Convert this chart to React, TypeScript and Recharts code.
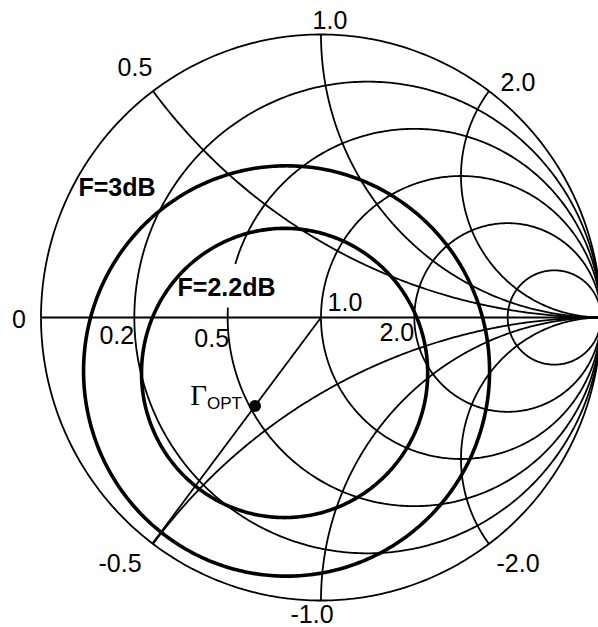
import React from "react";
import { ComposedChart, Line, Scatter, XAxis, YAxis } from "recharts";

// Smith chart grid values
const RESISTANCES = [0, 0.2, 0.5, 1, 2, 5];
const REACTANCES = [0.5, 1, 2, -0.5, -1, -2];

// tick labels
const R_TICKS = [0, 0.2, 0.5, 1, 2];
const R_TICK_LABELS = ["0", "0.2", "0.5", "1.0", "2.0"];
const X_TICKS = [0.5, 1, 2, -0.5, -1, -2];
const X_TICK_LABELS = ["0.5", "1.0", "2.0", "-0.5", "-1.0", "-2.0"];

// noise circles (reflection-coefficient plane)
const NOISE_LABELS = ["F=2.2dB", "F=3dB"];
const NOISE_CENTER_RE = [-0.13, -0.123];
const NOISE_CENTER_IM = [-0.196, -0.189];
const NOISE_RADIUS = [0.511, 0.725];

const GAMMA_OPT_RE = -0.2357;
const GAMMA_OPT_IM = -0.3127;

// where the noise-circle captions sit
const NOISE_LABEL_RE = [-0.3375, -0.7286];
const NOISE_LABEL_IM = [0.1095, 0.4594];

// pixel offsets of tick labels from their grid point
const R_OFFSET: Record<string, [number, number]> = {
  "0": [-22, 1],
  "0.2": [-17.5, 17.5],
  "0.5": [-16, 20.5],
  "1.0": [24, -15.5],
  "2.0": [-17.5, 14.5],
};
const X_OFFSET: Record<string, [number, number]> = {
  "0.5": [-18, -24],
  "1.0": [9, -14.5],
  "2.0": [29, -9],
  "-0.5": [-33, 19],
  "-1.0": [-9, 13],
  "-2.0": [29, 19],
};

const SANS = "Liberation Sans, Arial, sans-serif";
const THIN = 1.8;
const THICK = 3.6;

type Pt = { x: number; y: number | null };

// caption of the 2.2 dB circle has a white box behind it
const MASK = { re: NOISE_LABEL_RE[0], im: NOISE_LABEL_IM[0], hw: 52 / 280, hh: 20.5 / 283 };

function mask(pts: Pt[]): Pt[] {
  return pts.map((p) =>
    Math.abs(p.x - MASK.re) < MASK.hw && p.y !== null && Math.abs(p.y - MASK.im) < MASK.hh
      ? { x: p.x, y: null }
      : p
  );
}

function circle(cx: number, cy: number, rad: number, n = 480): Pt[] {
  const pts: Pt[] = [];
  for (let i = 0; i <= n; i++) {
    const t = (2 * Math.PI * i) / n;
    pts.push({ x: cx + rad * Math.cos(t), y: cy + rad * Math.sin(t) });
  }
  return pts;
}

function resistanceCircle(r: number): Pt[] {
  return circle(r / (1 + r), 0, 1 / (1 + r));
}

function reactanceArc(xv: number, n = 300): Pt[] {
  const pts: Pt[] = [];
  for (let i = 0; i < n; i++) {
    const r = Math.tan(((Math.PI / 2) * i) / n);
    const d = (r + 1) * (r + 1) + xv * xv;
    pts.push({ x: (r * r + xv * xv - 1) / d, y: (2 * xv) / d });
  }
  pts.push({ x: 1, y: 0 });
  return pts;
}

const gammaOptMag = Math.hypot(GAMMA_OPT_RE, GAMMA_OPT_IM);
const radial: Pt[] = [
  { x: 0, y: 0 },
  { x: GAMMA_OPT_RE / gammaOptMag, y: GAMMA_OPT_IM / gammaOptMag },
];

const tickData = [
  ...R_TICKS.map((r, i) => ({ x: (r - 1) / (r + 1), y: 0, text: R_TICK_LABELS[i], off: R_OFFSET[R_TICK_LABELS[i]] })),
  ...X_TICKS.map((xv, i) => ({
    x: (xv * xv - 1) / (1 + xv * xv),
    y: (2 * xv) / (1 + xv * xv),
    text: X_TICK_LABELS[i],
    off: X_OFFSET[X_TICK_LABELS[i]],
  })),
];

const noiseLabelData = NOISE_LABELS.map((t, i) => ({ x: NOISE_LABEL_RE[i], y: NOISE_LABEL_IM[i], text: t }));

const TickText = (p: any) => {
  const [dx, dy] = p.payload.off;
  return (
    <text x={p.cx + dx} y={p.cy + dy + 9} textAnchor="middle" fontFamily={SANS} fontSize={25} fill="#000">
      {p.payload.text}
    </text>
  );
};

const NoiseText = (p: any) => (
  <text x={p.cx} y={p.cy + 9} textAnchor="middle" fontFamily={SANS} fontWeight="bold" fontSize={25} fill="#000">
    {p.payload.text}
  </text>
);

const GammaOpt = (p: any) => (
  <g>
    <circle cx={p.cx} cy={p.cy} r={6} fill="#000" />
    <text x={p.cx - 13} y={p.cy - 1} textAnchor="end" fill="#000">
      <tspan fontFamily="Liberation Serif, Times New Roman, serif" fontSize={29}>
        Γ
      </tspan>
      <tspan fontFamily={SANS} fontSize={17} dy={4}>
        OPT
      </tspan>
    </text>
  </g>
);

export default function App() {
  const thin = [
    reactanceArc(0),
    ...RESISTANCES.map((r) => mask(resistanceCircle(r))),
    ...REACTANCES.map((xv) => mask(reactanceArc(xv))),
    radial,
  ];
  const thick = NOISE_LABELS.map((_, i) => circle(NOISE_CENTER_RE[i], NOISE_CENTER_IM[i], NOISE_RADIUS[i]));

  return (
    <div>
      <style>{`body{margin:0}`}</style>
      <ComposedChart width={598} height={627} margin={{ top: 0, right: 0, bottom: 0, left: 0 }}>
        <XAxis type="number" dataKey="x" domain={[-321 / 280, 277 / 280]} hide allowDataOverflow />
        <YAxis type="number" dataKey="y" domain={[-309.5 / 283, 317.5 / 283]} hide allowDataOverflow />
        {thin.map((pts, i) => (
          <Line
            key={`g${i}`}
            data={pts}
            dataKey="y"
            type="linear"
            stroke="#000"
            strokeWidth={THIN}
            dot={false}
            activeDot={false}
            isAnimationActive={false}
          />
        ))}
        {thick.map((pts, i) => (
          <Line
            key={`n${i}`}
            data={pts}
            dataKey="y"
            type="linear"
            stroke="#000"
            strokeWidth={THICK}
            dot={false}
            activeDot={false}
            isAnimationActive={false}
          />
        ))}
        <Scatter data={tickData} shape={TickText} isAnimationActive={false} />
        <Scatter data={noiseLabelData} shape={NoiseText} isAnimationActive={false} />
        <Scatter data={[{ x: GAMMA_OPT_RE, y: GAMMA_OPT_IM }]} shape={GammaOpt} isAnimationActive={false} />
      </ComposedChart>
    </div>
  );
}
